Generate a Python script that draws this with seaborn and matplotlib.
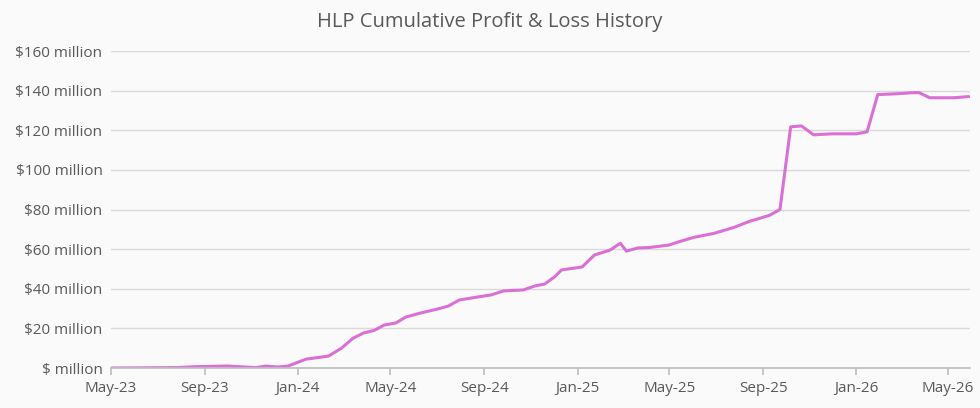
import pandas as pd
import matplotlib
matplotlib.use("Agg")
import matplotlib.pyplot as plt
import matplotlib.dates as mdates
from matplotlib.ticker import FuncFormatter
import seaborn as sns

# ─── DATOS ────────────────────────────────────────────────────────────────────
fechas = [
    "2023-05-01", "2023-07-26", "2023-08-22", "2023-10-01", "2023-11-07", "2023-11-20",
    "2023-12-06", "2023-12-19", "2024-01-12", "2024-02-10", "2024-02-27", "2024-03-13",
    "2024-03-27", "2024-04-10", "2024-04-23", "2024-05-08", "2024-05-21", "2024-06-10",
    "2024-07-02", "2024-07-16", "2024-07-30", "2024-08-24", "2024-09-10", "2024-09-26",
    "2024-10-22", "2024-11-06", "2024-11-19", "2024-12-02", "2024-12-11", "2025-01-07",
    "2025-01-23", "2025-02-13", "2025-02-26", "2025-03-06", "2025-03-21", "2025-04-04",
    "2025-04-30", "2025-05-16", "2025-06-03", "2025-06-29", "2025-07-25", "2025-08-14",
    "2025-09-09", "2025-09-23", "2025-10-07", "2025-10-21", "2025-11-06", "2025-12-01",
    "2026-01-01", "2026-01-15", "2026-01-29", "2026-02-22", "2026-03-14", "2026-03-24",
    "2026-04-07", "2026-05-09", "2026-05-28",
]
pnl_millones = [
    0.0, 0.2, 0.7, 1.0, 0.2, 1.0,
    0.5, 1.0, 4.5, 6.0, 10.0, 15.0,
    17.7, 19.0, 21.7, 22.7, 25.7, 27.8,
    29.8, 31.3, 34.3, 35.9, 36.9, 38.9,
    39.4, 41.4, 42.4, 46.0, 49.5, 51.0,
    57.0, 59.6, 63.0, 59.0, 60.6, 60.8,
    62.0, 64.0, 66.0, 68.0, 71.0, 74.0,
    77.0, 80.0, 121.7, 122.2, 117.7, 118.2,
    118.2, 119.2, 138.0, 138.4, 138.9, 139.0,
    136.4, 136.4, 137.0,
]

df = pd.DataFrame({"fecha": pd.to_datetime(fechas), "pnl": pnl_millones})

# ─── ESTILO ───────────────────────────────────────────────────────────────────
sns.set_theme(style="white")
plt.rcParams["font.family"] = ["Open Sans", "DejaVu Sans"]
GRIS = "#595959"

fig = plt.figure(figsize=(9.8, 4.08), dpi=100, facecolor="#fafafa")
ax = fig.add_axes([0.113, 0.098, 0.877, 0.777])
ax.set_facecolor("#fafafa")

sns.lineplot(data=df, x="fecha", y="pnl", ax=ax, color="#DA6FD6", lw=2.2)

ax.set_ylim(0, 160)
ax.set_yticks(range(0, 161, 20))
ax.yaxis.set_major_formatter(FuncFormatter(lambda v, _: "$ million" if v == 0 else f"${int(v)} million"))
ax.set_xlim(pd.Timestamp("2023-05-01"), pd.Timestamp("2026-05-30"))
ax.xaxis.set_major_locator(mdates.MonthLocator(bymonth=[1, 5, 9]))
ax.xaxis.set_major_formatter(mdates.DateFormatter("%b-%y"))

ax.grid(axis="y", color="#d9d9d9", lw=1)
ax.set_axisbelow(True)
for s in ["top", "right", "left"]:
    ax.spines[s].set_visible(False)
ax.spines["bottom"].set_color("#bfbfbf")
ax.tick_params(axis="x", colors=GRIS, labelsize=11, length=5, color="#bfbfbf", bottom=True, pad=4)
ax.tick_params(axis="y", colors=GRIS, labelsize=11, length=0, pad=6)
ax.set_xlabel("")
ax.set_ylabel("")

fig.text(0.5, 0.945, "HLP Cumulative Profit & Loss History", ha="center", va="center",
         fontsize=14.5, color=GRIS)

fig.savefig("out.png", dpi=100, facecolor=fig.get_facecolor())
